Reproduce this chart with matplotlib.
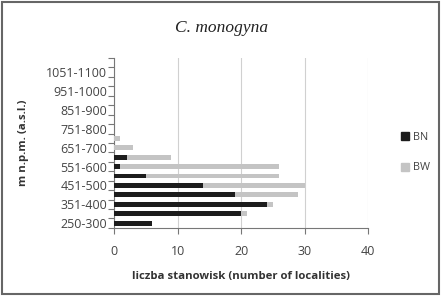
import matplotlib
matplotlib.use("Agg")
import matplotlib.pyplot as plt
import numpy as np
from matplotlib.patches import Rectangle
from matplotlib.lines import Line2D

# altitude classes (m a.s.l.)
classes = [
    "250-300", "301-350", "351-400", "401-450", "451-500", "501-550",
    "551-600", "601-650", "651-700", "701-750", "751-800", "801-850",
    "851-900", "901-950", "951-1000", "1001-1050", "1051-1100", "1101-1150",
]
bn = [6, 20, 24, 19, 14, 5, 1, 2, 0, 0, 0, 0, 0, 0, 0, 0, 0, 0]
bw = [0, 1, 1, 10, 16, 21, 25, 7, 3, 1, 0, 0, 0, 0, 0, 0, 0, 0]
x_ticks = [0, 10, 20, 30, 40]

BN_COLOR = "#1c1c1c"
BW_COLOR = "#c4c4c4"
TEXT_COLOR = "#444444"

plt.rcParams["font.family"] = ["Open Sans", "DejaVu Sans"]

fig = plt.figure(figsize=(4.42, 2.96), dpi=100)
ax = fig.add_axes([0.258, 0.230, 0.575, 0.574])

y = np.arange(len(classes))
ax.barh(y, bn, height=0.52, color=BN_COLOR, zorder=3)
ax.barh(y, bw, left=bn, height=0.52, color=BW_COLOR, zorder=3)

ax.set_xlim(0, 40)
ax.set_ylim(-0.5, len(classes) - 0.5)
ax.set_xticks(x_ticks)
ax.set_xticklabels([str(v) for v in x_ticks], fontsize=9, color=TEXT_COLOR)
ax.tick_params(axis="x", length=4, width=0.8, color="#777777", direction="out", pad=8)
ax.grid(axis="x", color="#d0d0d0", linewidth=0.8, zorder=0)

ax.set_yticks(y[::2])
ax.set_yticklabels(classes[::2], fontsize=9, color=TEXT_COLOR)
ax.tick_params(axis="y", which="major", length=0, pad=5)
ax.set_yticks(np.arange(-0.5, len(classes)), minor=True)
ax.tick_params(axis="y", which="minor", length=4, width=0.8, color="#777777")

for side in ["top", "right"]:
    ax.spines[side].set_visible(False)
for side in ["left", "bottom"]:
    ax.spines[side].set_color("#777777")
    ax.spines[side].set_linewidth(0.8)

ax.set_xlabel("liczba stanowisk (number of localities)", fontsize=8.2,
              fontweight="bold", color="#333333", labelpad=10)
ax.set_ylabel("m n.p.m. (a.s.l.)", fontsize=8.2, fontweight="bold",
              color="#333333", labelpad=12)

fig.text(0.502, 0.905, "C. monogyna", ha="center", va="center",
         fontsize=12.5, fontstyle="italic", family="Liberation Serif", color="#222222")

handles = [
    Line2D([], [], marker="s", linestyle="none", markersize=6,
           markerfacecolor=BN_COLOR, markeredgecolor=BN_COLOR),
    Line2D([], [], marker="s", linestyle="none", markersize=6,
           markerfacecolor=BW_COLOR, markeredgecolor=BW_COLOR),
]
fig.legend(handles, ["BN", "BW"], loc="center left", bbox_to_anchor=(0.885, 0.484),
           frameon=False, fontsize=7.8, labelspacing=1.8, handlelength=0.8,
           handletextpad=0.3, labelcolor=TEXT_COLOR)

fig.patches.append(Rectangle((0.004, 0.006), 0.990, 0.986, transform=fig.transFigure,
                             fill=False, edgecolor="#666666", linewidth=1.5))

fig.savefig("out.png", dpi=100)
